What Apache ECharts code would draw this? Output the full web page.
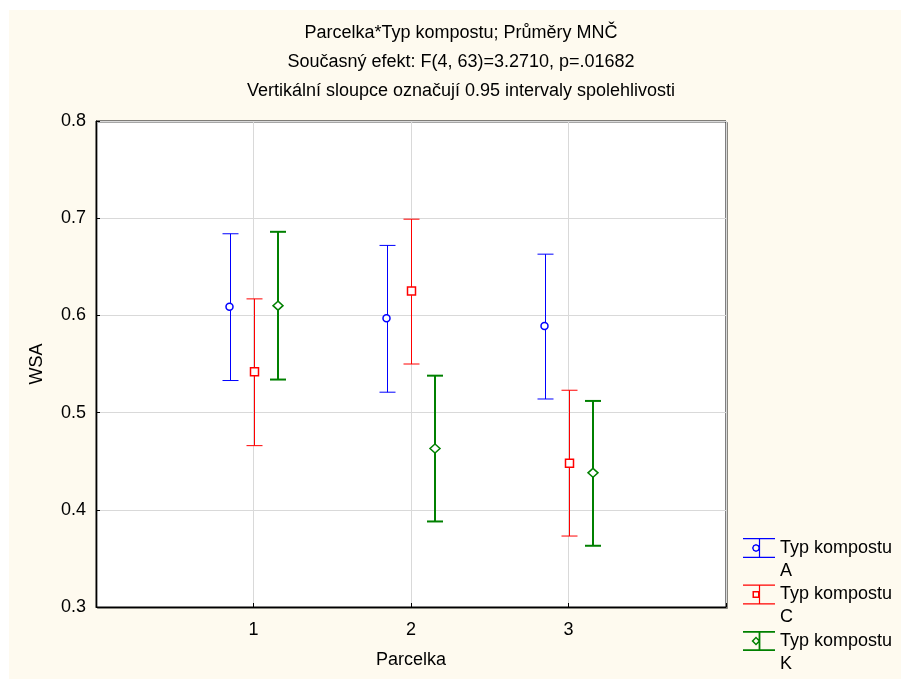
<!DOCTYPE html>
<html>
<head>
<meta charset="utf-8">
<script src="https://cdn.jsdelivr.net/npm/echarts@6/dist/echarts.min.js"></script>
<style>
  html, body { margin: 0; padding: 0; background: #ffffff; }
  #c { position: absolute; left: 9px; top: 10px; width: 892px; height: 669px; }
</style>
</head>
<body>
<div id="c"></div>
<script>
// ---- data ----
const parcelka = [1, 2, 3];
const xTickLabels = ['1', '2', '3'];
const seriesNames = ['Typ kompostu A', 'Typ kompostu C', 'Typ kompostu K'];

const meanA = [0.609, 0.597, 0.589];
const lowA  = [0.533, 0.521, 0.514];
const highA = [0.684, 0.672, 0.663];

const meanC = [0.542, 0.625, 0.448];
const lowC  = [0.466, 0.550, 0.373];
const highC = [0.617, 0.699, 0.523];

const meanK = [0.610, 0.463, 0.438];
const lowK  = [0.534, 0.388, 0.363];
const highK = [0.686, 0.538, 0.512];

const titleLines = [
  'Parcelka*Typ kompostu; Průměry MNČ',
  'Současný efekt: F(4, 63)=3.2710, p=.01682',
  'Vertikální sloupce označují 0.95 intervaly spolehlivosti'
];

// ---- chart ----
const FONT = '"Liberation Sans", Arial, sans-serif';
const chart = echarts.init(document.getElementById('c'), null, { renderer: 'canvas' });

function rows(low, high, mean) {
  return parcelka.map((p, i) => [p, low[i], high[i], mean[i]]);
}

function makeRender(dx, markerType, color, lw) {
  return function (params, api) {
    const x = api.value(0);
    const lo = api.coord([x, api.value(1)]);
    const hi = api.coord([x, api.value(2)]);
    const m = api.coord([x, api.value(3)]);
    const cx = Math.round(lo[0] + dx) + (lw % 2 === 1 ? 0.5 : 0);
    const capW = 8;
    const ls = () => ({ stroke: color, lineWidth: lw, fill: null });
    const my = m[1];
    let marker;
    const ms = { fill: '#ffffff', stroke: color, lineWidth: 1.5 };
    if (markerType === 'circle') {
      marker = { type: 'circle', shape: { cx: cx - 1, cy: my, r: 3.5 }, style: ms };
    } else if (markerType === 'rect') {
      marker = { type: 'rect', shape: { x: cx - 4, y: my - 4, width: 8, height: 8 }, style: ms };
    } else {
      marker = { type: 'polygon', shape: { points: [[cx, my - 4.5], [cx + 5, my], [cx, my + 4.5], [cx - 5, my]] }, style: ms };
    }
    return {
      type: 'group',
      children: [
        { type: 'line', shape: { x1: cx, y1: hi[1], x2: cx, y2: lo[1] }, style: ls() },
        { type: 'line', shape: { x1: cx - capW, y1: hi[1], x2: cx + capW, y2: hi[1] }, style: ls() },
        { type: 'line', shape: { x1: cx - capW, y1: lo[1], x2: cx + capW, y2: lo[1] }, style: ls() },
        marker
      ]
    };
  };
}

// legend icons: error bar with marker (32 x 20)
const bars = (t) => 'M0,0 L32,0 L32,' + t + ' L0,' + t + ' Z ' +
  'M0,' + (20 - t) + ' L32,' + (20 - t) + ' L32,20 L0,20 Z ' +
  'M' + (16.5 - t / 2) + ',0 L' + (16.5 + t / 2) + ',0 L' + (16.5 + t / 2) + ',20 L' + (16.5 - t / 2) + ',20 Z ';
const iconA = 'path://' + bars(1.2) +
  'M13,6 L15.8,7.2 L17,10 L15.8,12.8 L13,14 L10.2,12.8 L9,10 L10.2,7.2 Z ' +
  'M13,7.5 L11.2,8.2 L10.5,10 L11.2,11.8 L13,12.5 L14.8,11.8 L15.5,10 L14.8,8.2 Z';
const iconC = 'path://' + bars(1.2) +
  'M9.5,6.5 L16.5,6.5 L16.5,13.5 L9.5,13.5 Z M11,8 L11,12 L15,12 L15,8 Z';
const iconK = 'path://' + bars(1.8) +
  'M13,5.5 L17.5,10 L13,14.5 L8.5,10 Z M13,7.6 L10.6,10 L13,12.4 L15.4,10 Z';

const titleTops = [14, 43, 72];

const option = {
  animation: false,
  backgroundColor: '#fefaef',
  textStyle: { fontFamily: FONT },
  title: titleLines.map((t, i) => ({
    text: t,
    left: 452,
    top: titleTops[i],
    padding: 0,
    textAlign: 'center',
    textStyle: { fontFamily: FONT, fontSize: 18, fontWeight: 'normal', color: '#000' }
  })),
  grid: {
    left: 87, top: 111, right: 175, bottom: 72,
    show: true, backgroundColor: '#ffffff', borderColor: '#000', borderWidth: 1,
    shadowColor: 'rgba(0,0,0,0.35)', shadowOffsetX: 1.5, shadowOffsetY: 1.5, shadowBlur: 0
  },
  legend: {
    orient: 'vertical',
    left: 734,
    top: 503.5,
    padding: 0,
    itemGap: -22.5,
    itemWidth: 32,
    itemHeight: 20,
    selectedMode: false,
    itemStyle: { borderWidth: 0 },
    formatter: (name) => '\n' + name.replace(/ (\S+)$/, '\n$1'),
    textStyle: { fontFamily: FONT, fontSize: 18, color: '#000', lineHeight: 23 },
    data: [
      { name: seriesNames[0], icon: iconA },
      { name: seriesNames[1], icon: iconC },
      { name: seriesNames[2], icon: iconK }
    ]
  },
  xAxis: {
    type: 'value',
    min: 0, max: 4, interval: 1,
    name: 'Parcelka',
    nameLocation: 'middle',
    nameGap: 44,
    nameTextStyle: { fontFamily: FONT, fontSize: 18, color: '#000' },
    axisLine: { lineStyle: { color: '#000', width: 1 } },
    axisTick: { show: true, inside: true, length: 4, lineStyle: { color: '#000' } },
    axisLabel: {
      fontFamily: FONT, fontSize: 18, color: '#000', margin: 14,
      formatter: (v) => { const i = parcelka.indexOf(v); return i >= 0 ? xTickLabels[i] : ''; }
    },
    splitLine: { show: true, lineStyle: { color: '#d9d9d9', width: 1 } }
  },
  yAxis: {
    type: 'value',
    min: 0.3, max: 0.8, interval: 0.1,
    name: 'WSA',
    nameLocation: 'middle',
    nameRotate: 90,
    nameGap: 50,
    nameTextStyle: { fontFamily: FONT, fontSize: 18, color: '#000' },
    axisLine: { show: true, lineStyle: { color: '#000', width: 1 } },
    axisTick: { show: true, inside: true, length: 4, lineStyle: { color: '#000' } },
    axisLabel: { fontFamily: FONT, fontSize: 18, color: '#000', margin: 10, formatter: (v) => v.toFixed(1) },
    splitLine: { show: true, lineStyle: { color: '#d9d9d9', width: 1 } }
  },
  series: [
    {
      name: seriesNames[0], type: 'custom', itemStyle: { color: '#0000ff' },
      renderItem: makeRender(-24, 'circle', '#0000ff', 1),
      encode: { x: 0, y: [1, 2, 3] },
      data: rows(lowA, highA, meanA)
    },
    {
      name: seriesNames[1], type: 'custom', itemStyle: { color: '#ff0000' },
      renderItem: makeRender(0, 'rect', '#ff0000', 1),
      encode: { x: 0, y: [1, 2, 3] },
      data: rows(lowC, highC, meanC)
    },
    {
      name: seriesNames[2], type: 'custom', itemStyle: { color: '#008000' },
      renderItem: makeRender(24, 'diamond', '#008000', 2),
      encode: { x: 0, y: [1, 2, 3] },
      data: rows(lowK, highK, meanK)
    }
  ]
};
chart.setOption(option);
</script>
</body>
</html>
